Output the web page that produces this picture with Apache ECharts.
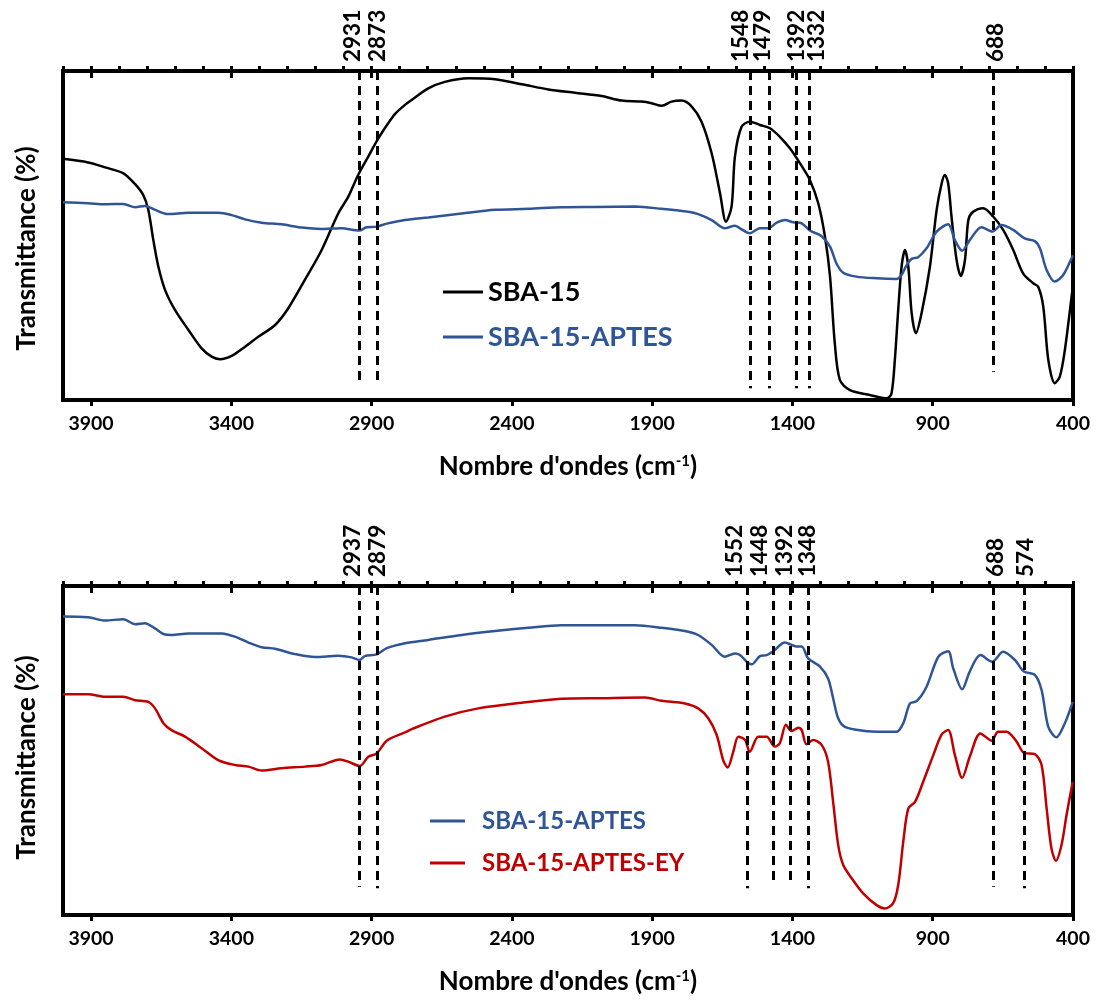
<!DOCTYPE html>
<html>
<head>
<meta charset="utf-8">
<script src="https://cdn.jsdelivr.net/npm/echarts@6/dist/echarts.min.js"></script>
<style>
  html, body { margin: 0; padding: 0; background: #fff; }
  #chart { width: 1098px; height: 1000px; }
</style>
</head>
<body>
<div id="chart"></div>
<script>
// x axis tick labels (cm-1)
const xTicks = [3900, 3400, 2900, 2400, 1900, 1400, 900, 400];
const xMinorTicks = [];
for (let w = 4000; w >= 400; w -= 100) xMinorTicks.push(w);

// --- top panel: SBA-15 ---
const sba15Wn = [4000, 3910, 3850, 3785, 3743, 3714, 3696, 3678, 3660, 3636, 3601, 3553, 3506, 3470, 3440, 3399, 3351, 3304, 3244, 3197, 3138, 3078, 3019, 2983, 2948, 2912, 2876, 2841, 2817, 2781, 2757, 2698, 2639, 2555, 2460, 2365, 2270, 2175, 2080, 2009, 1938, 1902, 1866, 1831, 1795, 1759, 1724, 1688, 1658, 1637, 1617, 1605, 1581, 1552, 1516, 1480, 1445, 1409, 1373, 1338, 1308, 1284, 1266, 1249, 1231, 1195, 1124, 1064, 1047, 1035, 1023, 1011, 999, 987, 975, 960, 940, 910, 886, 868, 857, 845, 833, 815, 800, 785, 773, 756, 720, 684, 649, 613, 578, 542, 524, 506, 488, 465, 447, 429, 405, 400];
const sba15T = [73.3, 72.2, 70.7, 68.9, 65.6, 62.3, 57.8, 48.6, 40.5, 33.4, 27.4, 21.3, 15.7, 13.2, 12.4, 13.4, 16.2, 19.2, 22.8, 27.9, 36.5, 45.6, 56.7, 61.8, 68.4, 74.0, 79.5, 84.1, 86.9, 89.7, 91.2, 94.7, 96.7, 97.8, 97.5, 96.0, 94.4, 93.4, 92.4, 91.0, 90.7, 90.2, 89.4, 90.7, 91.0, 89.2, 84.6, 75.0, 62.8, 54.2, 58.8, 74.0, 83.1, 84.6, 83.6, 82.6, 80.0, 76.5, 71.9, 66.9, 59.8, 49.6, 37.5, 17.2, 6.1, 3.0, 1.5, 0.5, 2.0, 12.2, 27.4, 40.5, 45.6, 40.5, 26.3, 20.3, 26.3, 40.5, 57.8, 65.9, 68.4, 65.9, 55.7, 42.6, 37.7, 42.6, 54.7, 57.2, 58.3, 55.7, 51.7, 45.6, 38.5, 35.5, 34.4, 28.4, 12.2, 5.1, 7.1, 15.2, 31.4, 35.0];

// --- top panel: SBA-15-APTES ---
const aptesTopWn = [4000, 3910, 3850, 3785, 3743, 3708, 3672, 3625, 3553, 3447, 3399, 3351, 3292, 3221, 3149, 3078, 3007, 2944, 2918, 2882, 2846, 2781, 2698, 2579, 2460, 2342, 2223, 2104, 1961, 1866, 1771, 1736, 1688, 1641, 1605, 1587, 1552, 1516, 1486, 1456, 1427, 1397, 1367, 1338, 1296, 1266, 1243, 1219, 1172, 1100, 1029, 1011, 993, 975, 952, 922, 886, 845, 821, 795, 768, 726, 687, 655, 613, 572, 536, 518, 494, 465, 435, 405, 400];
const aptesTopT = [60.1, 59.8, 59.5, 59.6, 58.6, 59.0, 57.8, 56.5, 56.9, 56.9, 56.2, 54.9, 53.9, 53.4, 52.4, 52.0, 52.2, 51.5, 52.5, 52.7, 53.6, 54.7, 55.5, 56.7, 57.8, 58.1, 58.6, 58.7, 58.8, 58.1, 57.2, 56.5, 54.7, 52.2, 53.0, 52.2, 50.7, 52.2, 52.2, 53.9, 54.7, 54.0, 53.7, 51.5, 49.8, 46.6, 41.5, 38.7, 37.5, 37.0, 36.8, 38.0, 41.0, 42.9, 43.4, 46.1, 51.2, 53.4, 48.6, 45.4, 48.6, 52.5, 51.2, 53.2, 51.7, 49.1, 48.3, 46.1, 39.5, 36.0, 38.0, 43.1, 44.0];

// --- bottom panel: SBA-15-APTES ---
const aptesWn = [4000, 3910, 3850, 3785, 3743, 3708, 3672, 3642, 3613, 3553, 3434, 3387, 3339, 3292, 3244, 3173, 3102, 3019, 2971, 2944, 2924, 2882, 2846, 2781, 2698, 2579, 2460, 2342, 2223, 2104, 1961, 1866, 1771, 1736, 1688, 1641, 1605, 1587, 1557, 1545, 1516, 1492, 1468, 1427, 1403, 1385, 1367, 1344, 1302, 1273, 1255, 1237, 1213, 1148, 1077, 1029, 1005, 981, 957, 922, 880, 845, 827, 795, 768, 730, 688, 649, 607, 575, 536, 512, 488, 459, 429, 401];
const aptesT = [90.7, 90.5, 89.5, 89.9, 88.4, 88.7, 87.1, 85.4, 85.1, 85.6, 85.6, 84.6, 82.8, 81.4, 80.9, 79.3, 78.4, 78.8, 78.3, 77.5, 78.7, 79.2, 81.1, 82.6, 83.6, 85.1, 86.3, 87.3, 88.1, 88.1, 88.1, 87.3, 86.1, 85.1, 82.1, 78.5, 79.5, 79.0, 76.5, 76.2, 78.7, 79.0, 80.2, 82.8, 82.1, 81.6, 81.6, 78.0, 75.5, 71.9, 65.9, 59.8, 57.2, 56.0, 55.7, 55.7, 58.3, 64.3, 65.0, 69.4, 78.5, 80.2, 75.0, 68.6, 74.0, 79.0, 77.0, 80.0, 77.5, 74.0, 73.0, 68.4, 57.2, 54.0, 58.3, 64.8];

// --- bottom panel: SBA-15-APTES-EY ---
const eyWn = [4000, 3910, 3850, 3785, 3743, 3696, 3672, 3642, 3613, 3565, 3506, 3447, 3387, 3339, 3292, 3221, 3138, 3078, 3013, 2983, 2942, 2912, 2882, 2846, 2781, 2757, 2639, 2520, 2365, 2223, 2080, 1926, 1866, 1783, 1736, 1700, 1670, 1647, 1631, 1611, 1593, 1569, 1552, 1522, 1492, 1463, 1445, 1423, 1403, 1379, 1367, 1350, 1326, 1296, 1273, 1255, 1237, 1219, 1184, 1148, 1100, 1071, 1041, 1023, 1005, 987, 963, 934, 898, 868, 845, 821, 795, 768, 730, 690, 667, 637, 601, 575, 536, 512, 494, 477, 461, 441, 423, 401];
const eyT = [67.1, 67.1, 66.3, 66.3, 65.3, 64.8, 62.8, 58.3, 56.2, 54.2, 50.7, 47.1, 45.6, 45.1, 43.9, 44.6, 45.1, 45.6, 47.3, 46.6, 45.3, 48.1, 49.1, 53.0, 55.5, 56.5, 60.3, 62.8, 64.5, 65.7, 65.9, 66.1, 65.1, 64.3, 62.8, 59.8, 54.7, 47.1, 44.8, 49.6, 54.2, 53.2, 49.6, 54.2, 54.2, 51.2, 52.2, 57.8, 55.9, 56.9, 56.2, 51.9, 53.2, 51.7, 46.6, 34.4, 21.3, 15.2, 10.6, 6.6, 3.0, 2.0, 3.6, 9.1, 22.3, 32.4, 34.4, 40.5, 48.6, 54.9, 56.2, 48.6, 41.7, 48.1, 55.2, 53.0, 55.7, 55.7, 52.7, 49.3, 48.9, 45.6, 32.4, 20.3, 16.5, 21.3, 30.4, 40.5];

// peak markers: label text, label centre (cm-1), dashed line position, line lower end
const topPeakLabels = ['2931', '2873', '1548', '1479', '1392', '1332', '688'];
const topLabelAt = [2967, 2877, 1584, 1505, 1384, 1313, 676];
const topPeakPos = [2944, 2880, 1552, 1483, 1388, 1341, 684];
const topPeakEnd = [5.6, 5.6, 3.6, 3.6, 3.6, 3.6, 8.6];
const botPeakLabels = ['2937', '2879', '1552', '1448', '1392', '1348', '688', '574'];
const botLabelAt = [2967, 2877, 1607, 1518, 1429, 1346, 674, 570];
const botPeakPos = [2944, 2880, 1561, 1468, 1409, 1344, 684, 575];
const botPeakEnd = [8.6, 8.1, 8.1, 9.6, 9.1, 8.1, 8.6, 8.1];

const FONT = 'Lato';
const BLUE = '#2F5597';
const RED = '#C00000';

const chart = echarts.init(document.getElementById('chart'), null, { renderer: 'canvas' });

function pairs(wn, t) {
  return wn.map((w, i) => [w, t[i]]);
}
function peakLines(pos, ends) {
  return pos.map((p, i) => [{ coord: [p, 100] }, { coord: [p, ends[i]] }]);
}

const boldText = { fontFamily: FONT, fontWeight: 'bold', color: '#000' };

function xAxesFor(gi) {
  const base = { gridIndex: gi, type: 'value', min: 400, max: 4000, inverse: true, splitLine: { show: false } };
  return [
    Object.assign({}, base, {
      axisLine: { lineStyle: { color: '#000', width: 4 } },
      axisTick: { customValues: xTicks, length: 6, lineStyle: { color: '#000', width: 3 } },
      axisLabel: Object.assign({ customValues: xTicks, margin: 14, fontSize: 19.5, formatter: v => String(v) }, boldText),
      name: "Nombre d'ondes (cm{sup|-1})",
      nameLocation: 'middle',
      nameGap: 54,
      nameTextStyle: Object.assign({
        fontSize: 26,
        rich: { sup: { fontFamily: FONT, fontWeight: 'bold', fontSize: 15, color: '#000', verticalAlign: 'top', lineHeight: 22 } }
      }, boldText)
    }),
    Object.assign({}, base, {
      axisLine: { show: false },
      axisTick: { customValues: xMinorTicks, length: 5, lineStyle: { color: '#000', width: 3 } },
      axisLabel: { show: false }
    }),
    Object.assign({}, base, {
      axisLine: { show: false },
      axisTick: { customValues: xTicks, inside: true, length: 7, lineStyle: { color: '#000', width: 3 } },
      axisLabel: { show: false }
    })
  ];
}

function yAxisFor(gi, shift) {
  return {
    gridIndex: gi, type: 'value', min: 0, max: 100,
    axisLine: { show: false }, axisTick: { show: false }, axisLabel: { show: false }, splitLine: { show: false },
    name: 'Transmittance (%)', nameLocation: 'middle', nameGap: 23,
    nameTextStyle: Object.assign({ fontSize: 26, padding: [0, shift, 0, 0] }, boldText)
  };
}

function lineSeries(name, data, color, xi, yi, marks) {
  const s = {
    name: name, type: 'line', xAxisIndex: xi, yAxisIndex: yi, data: data,
    showSymbol: false, symbol: 'none', smooth: 0.3, animation: false,
    lineStyle: { color: color, width: 2.5 }, itemStyle: { color: color }, z: 3
  };
  if (marks) {
    s.markLine = {
      silent: true, symbol: ['none', 'none'], animation: false, label: { show: false },
      lineStyle: { color: '#000', width: 3, type: [9, 6] },
      data: marks
    };
  }
  return s;
}

function peakLabelSeries(at, labels, xi, yi) {
  return {
    type: 'custom', xAxisIndex: xi, yAxisIndex: yi, silent: true, animation: false, clip: false,
    data: at.map(p => [p, 100]),
    renderItem: (params, api) => {
      const pt = api.coord([api.value(0), api.value(1)]);
      return {
        type: 'text', x: pt[0], y: pt[1] - 9, rotation: Math.PI / 2,
        style: {
          text: labels[params.dataIndex], fill: '#000',
          font: 'bold 22.5px ' + FONT, align: 'left', verticalAlign: 'middle'
        }
      };
    },
    z: 5
  };
}

const option = {
  backgroundColor: '#fff',
  animation: false,
  grid: [
    { left: 63, right: 25, top: 71, height: 329, show: true, borderColor: '#000', borderWidth: 4 },
    { left: 63, right: 25, top: 586, height: 329, show: true, borderColor: '#000', borderWidth: 4 }
  ],
  xAxis: xAxesFor(0).concat(xAxesFor(1)),
  yAxis: [yAxisFor(0, 26), yAxisFor(1, 14)],
  legend: [
    {
      orient: 'vertical', left: 443, top: 276, padding: 0, itemWidth: 40, itemHeight: 3, itemGap: 13,
      icon: 'rect', selectedMode: false,
      textStyle: { fontFamily: FONT, fontWeight: 'bold', fontSize: 27, lineHeight: 32 },
      data: [
        { name: 'SBA-15', textStyle: { color: '#000' } },
        { name: 'SBA-15-APTES', textStyle: { color: BLUE } }
      ]
    },
    {
      orient: 'vertical', left: 430, top: 806, padding: 0, itemWidth: 35, itemHeight: 3, itemGap: 12,
      icon: 'rect', selectedMode: false,
      textStyle: { fontFamily: FONT, fontWeight: 'bold', fontSize: 24, lineHeight: 30, padding: [0, 0, 0, 12] },
      data: [
        { name: 'SBA-15-APTES', textStyle: { color: BLUE } },
        { name: 'SBA-15-APTES-EY', textStyle: { color: RED } }
      ]
    }
  ],
  series: [
    lineSeries('SBA-15', pairs(sba15Wn, sba15T), '#000', 0, 0, peakLines(topPeakPos, topPeakEnd)),
    lineSeries('SBA-15-APTES', pairs(aptesTopWn, aptesTopT), BLUE, 0, 0),
    peakLabelSeries(topLabelAt, topPeakLabels, 0, 0),
    lineSeries('SBA-15-APTES', pairs(aptesWn, aptesT), BLUE, 3, 1),
    lineSeries('SBA-15-APTES-EY', pairs(eyWn, eyT), RED, 3, 1, peakLines(botPeakPos, botPeakEnd)),
    peakLabelSeries(botLabelAt, botPeakLabels, 3, 1)
  ]
};

chart.setOption(option);
window.addEventListener('resize', () => chart.resize());
</script>
</body>
</html>
